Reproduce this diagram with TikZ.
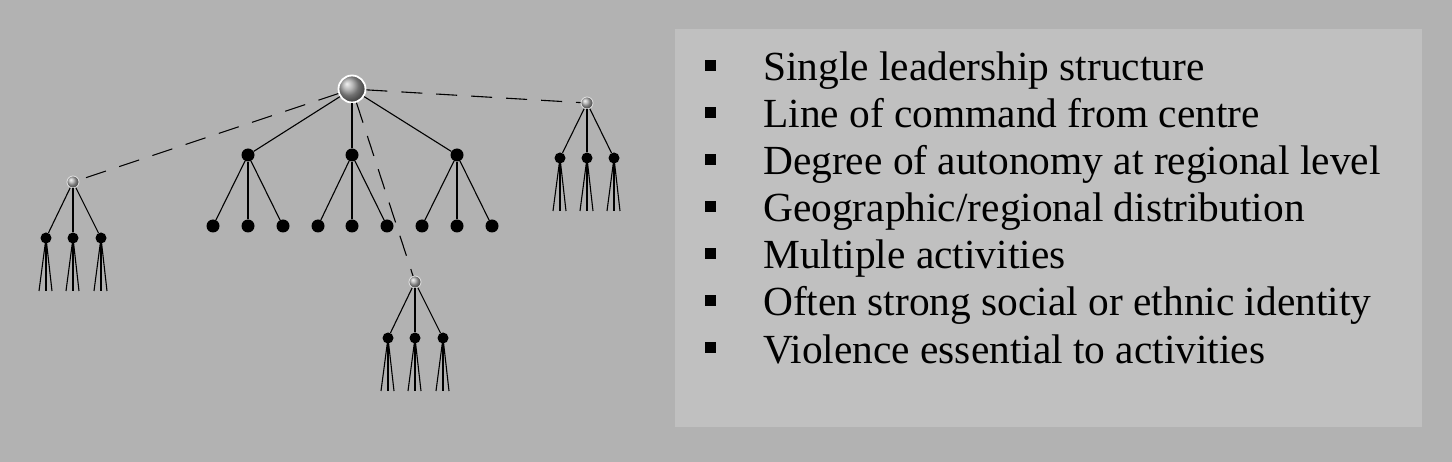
\documentclass[tikz,border=0pt]{standalone}
\usepackage{fontspec}
\setmainfont{Liberation Serif}
\definecolor{slate}{RGB}{178,178,178}
\definecolor{panel}{RGB}{192,192,192}
\begin{document}
\begin{tikzpicture}[x=1pt, y=-1pt,
  boss/.style={circle, draw=white, line width=1.8pt, ball color=gray!75, minimum size=27pt, inner sep=0pt},
  hub/.style={circle, draw=white!80!gray, line width=0.8pt, ball color=gray!65, minimum size=12pt, inner sep=0pt},
  member/.style={circle, fill=black, minimum size=13pt, inner sep=0pt},
  cell/.style={circle, fill=black, minimum size=11pt, inner sep=0pt},
  link/.style={line width=1.1pt},
  remote/.style={line width=1.1pt, dash pattern=on 21pt off 14pt},
  tick/.style={fill=black, minimum size=11pt, inner sep=0pt},
  point/.style={anchor=base west, inner sep=0pt, font=\fontsize{41.4}{48}\selectfont}]
  \useasboundingbox (0,0) rectangle (1452,462);
  \fill[slate] (0,0) rectangle (1452,462);
  \fill[panel] (675,29) rectangle (1422,427);

  % core organisation
  \node[boss] (top) at (352,89) {};
  \foreach \i/\x in {1/248,2/352,3/457} {
    \node[member] (m\i) at (\x,155) {};
    \draw[link] (top) -- (m\i);
  }
  \foreach \i/\j/\x in {1/1/213,1/2/248,1/3/283,2/4/318,2/5/352,2/6/387,3/7/422,3/8/457,3/9/492} {
    \node[member] (s\j) at (\x,226) {};
    \draw[link] (m\i) -- (s\j);
  }

  % regional groups
  \node[hub] (west) at (73,182) {};
  \node[hub] (east) at (587,103) {};
  \node[hub] (south) at (415,282) {};
  \draw[remote] (top) -- (west);
  \draw[remote] (top) -- (east);
  \draw[remote] (top) -- (south);
  \foreach \h/\n/\x/\y in {west/w1/46/238,west/w2/73/238,west/w3/101/238,
                           east/e1/560/158,east/e2/587/158,east/e3/614/158,
                           south/u1/388/338,south/u2/415/338,south/u3/443/338} {
    \node[cell] (\n) at (\x,\y) {};
    \draw[link] (\h) -- (\n);
    \foreach \k/\dx in {a/-7,b/0,c/6} {
      \coordinate (\n\k) at (\x+\dx,\y+53);
      \draw[link] (\n.center) -- (\n\k);
    }
  }

  % features
  \foreach \i/\y/\txt in {1/81/{Single leadership structure},
                          2/128/{Line of command from centre},
                          3/175/{Degree of autonomy at regional level},
                          4/222/{Geographic/regional distribution},
                          5/269/{Multiple activities},
                          6/316/{Often strong social or ethnic identity},
                          7/363/{Violence essential to activities}} {
    \node[tick] (b\i) at (710,\y-15) {};
    \node[point] (t\i) at (763,\y) {\txt};
  }
\end{tikzpicture}
\end{document}
